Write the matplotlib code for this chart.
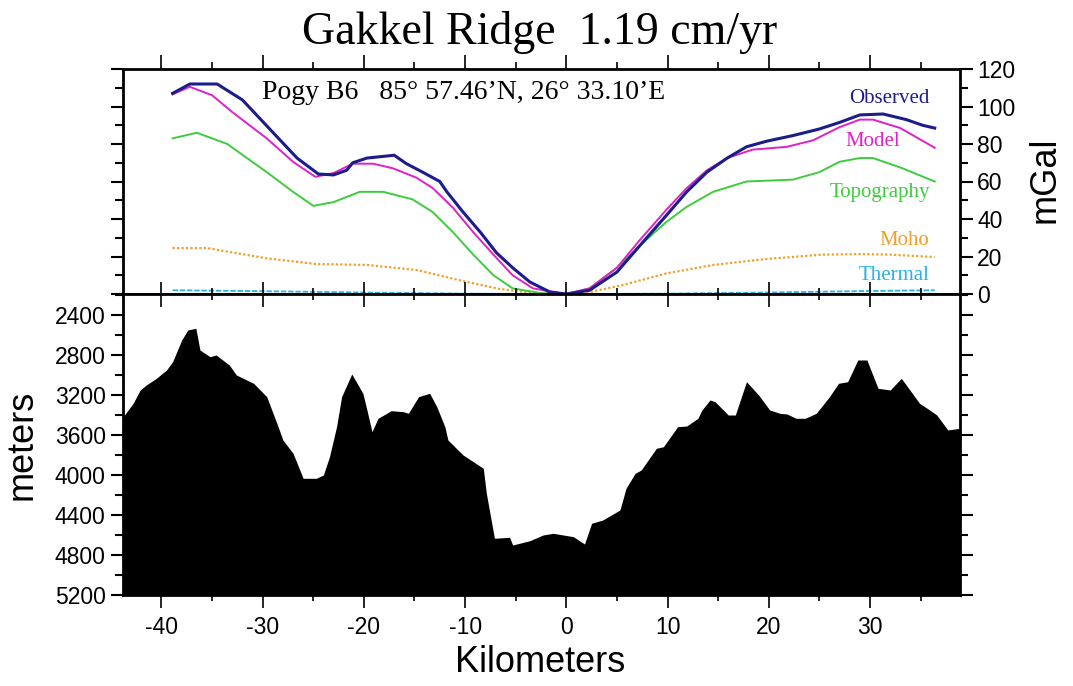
import numpy as np
import matplotlib
matplotlib.use("Agg")
import matplotlib.pyplot as plt
from matplotlib.ticker import MultipleLocator

plt.rcParams['font.family'] = ['Liberation Sans', 'DejaVu Sans']
plt.rcParams['axes.unicode_minus'] = False

# gravity anomaly profiles (km, mGal)
obs_km = [-38.9, -37.2, -34.5, -32, -30, -28, -26.6, -24.5, -23, -21.7, -21.1, -19.7, -17, -15.8,
          -14.2, -12.5, -11.8, -10.2, -8.5, -6.9, -5.3, -3.6, -1.6, 0, 2.3, 5, 7.3, 9.9, 11.9, 13.9,
          15.9, 17.8, 19.8, 22.4, 25, 27, 29, 31.3, 33.6, 35.2, 36.4]
observed = [107, 112, 112, 103.5, 92, 80.5, 72.5, 64, 63.5, 66, 70, 72.5, 74, 69.5, 65, 60, 54.5,
            43.7, 33, 22, 14, 6.4, 1, 0, 2, 11.7, 26, 42, 54.5, 65, 72.5, 78.5, 81.5, 84.5, 88,
            91.5, 95.5, 96, 93, 90, 88.5]

mod_km = [-38.9, -37.2, -35, -33, -29.6, -27, -24.8, -23, -21.1, -19.1, -17.1, -14.8, -13.2, -11.2,
          -9.2, -7.2, -5.3, -3.3, 0, 2.3, 5, 7.3, 9.9, 11.9, 13.9, 15.9, 18.4, 21.8, 24.4, 27, 29,
          30.3, 33, 36.4]
model = [106.5, 110.5, 106, 97, 83, 70.5, 62.5, 64.5, 69.5, 69.5, 67, 62, 56.5, 46, 33, 21, 10, 3,
         0, 3, 14, 29, 45, 56.5, 66, 72.5, 77, 78.5, 82, 89, 93, 93, 88.5, 78]

topo_km = [-38.9, -36.5, -33.5, -29.6, -27, -25, -23, -20.4, -18.1, -15.2, -13.2, -11.2, -9.2, -7.2,
           -5.3, -2.5, 0, 2.3, 5, 7.3, 9.9, 11.9, 14.5, 17.8, 22.4, 25, 27, 29, 30.3, 33, 36.4]
topography = [83, 86, 80, 65, 54.5, 47, 49, 54.5, 54.5, 50.5, 43.7, 33, 21, 10, 3, 0.5, 0, 3, 14,
              26, 38.5, 46.5, 54.5, 60, 61, 65, 70.5, 72.5, 72.5, 67.5, 60]

moho_km = [-38.9, -35.5, -29.6, -24.7, -19.7, -14.8, -9.8, -6.6, -3.3, 0, 2.3, 5.6, 9.9, 14.5,
           19.8, 25.3, 29, 32, 36.4]
moho = [24.5, 24.5, 19, 16, 15.5, 12.8, 6.4, 2.7, 0.5, 0, 1, 4.8, 11, 15.5, 18.7, 21, 21.3, 21, 19.7]

therm_km = [-38.9, -30, -20, -10, 0, 10, 20, 30, 36.4]
thermal = [2, 1.5, 0.8, 0.2, 0, 0.2, 0.8, 1.6, 2]

# bathymetry (km, meters depth)
bath_km = [-43.8, -42.8, -42.1, -41.5, -40.5, -39.5, -38.9, -38.0, -37.4, -36.6, -36.2, -35.2, -34.6,
           -33.3, -32.6, -30.9, -29.6, -28.6, -28.0, -27.0, -26.0, -24.7, -24.0, -23.4, -22.7,
           -22.2, -21.2, -20.1, -19.7, -19.2, -18.6, -17.3, -16.1, -15.6, -14.6, -13.5, -12.8,
           -12.0, -11.7, -10.7, -10.2, -8.2, -7.9, -7.1, -5.6, -5.3, -3.6, -2.3, -1.3, 0.7, 1.8,
           2.5, 3.6, 5.3, 5.9, 6.8, 7.4, 8.9, 9.6, 11.0, 11.9, 13.0, 13.4, 14.2, 14.7, 16.0, 16.7,
           17.8, 19.0, 20.1, 21.1, 21.8, 22.7, 23.6, 24.7, 26.0, 26.9, 27.8, 28.8, 29.7, 30.8,
           32.0, 33.1, 34.9, 35.9, 36.6, 37.7, 38.9]
depth = [3420, 3283, 3150, 3100, 3033, 2950, 2867, 2650, 2550, 2533, 2750, 2817, 2800, 2900, 3000,
         3083, 3217, 3483, 3650, 3783, 4033, 4033, 4000, 3817, 3517, 3217, 2990, 3183, 3350, 3567,
         3433, 3357, 3367, 3383, 3217, 3183, 3317, 3517, 3650, 3750, 3800, 3933, 4183, 4633, 4623,
         4700, 4657, 4600, 4583, 4617, 4690, 4483, 4450, 4350, 4133, 3983, 3950, 3733, 3717, 3517,
         3510, 3433, 3350, 3250, 3267, 3400, 3400, 3067, 3200, 3350, 3383, 3390, 3433, 3433, 3383,
         3217, 3083, 3067, 2850, 2850, 3133, 3150, 3033, 3283, 3350, 3400, 3550, 3533]

c_obs = '#1c1c8a'
c_mod = '#e020c8'
c_topo = '#3ccc3c'
c_moho = '#f0a028'
c_therm = '#28b4e0'

fig = plt.figure(figsize=(10.73, 6.86), dpi=100)
W, H = 1073, 686
left, right = 123 / W, 960 / W
ax1 = fig.add_axes([left, 1 - 294 / H, right - left, (294 - 69) / H])
ax2 = fig.add_axes([left, 1 - 595 / H, right - left, (595 - 294) / H])

xmin, xmax = -43.8, 38.9

# top panel: gravity
ax1.plot(moho_km, moho, color=c_moho, lw=1.6, ls=(0, (1, 1)))
ax1.plot(therm_km, thermal, color=c_therm, lw=1.3, ls=(0, (3, 1)))
ax1.plot(topo_km, topography, color=c_topo, lw=1.4)
ax1.plot(mod_km, model, color=c_mod, lw=1.4)
ax1.plot(obs_km, observed, color=c_obs, lw=2.2)
ax1.set_xlim(xmin, xmax)
ax1.set_ylim(0, 120)

serif = ['Liberation Serif', 'DejaVu Serif']
ax1.text(-30.1, 107.5, 'Pogy B6   85\u00b0 57.46\u2019N, 26\u00b0 33.10\u2019E', family=serif,
         fontsize=20, va='center', ha='left')
ax1.text(35.9, 104.5, 'Observed', color=c_obs, family=serif, fontsize=15, ha='right', va='center')
ax1.text(32.95, 81.2, 'Model', color=c_mod, family=serif, fontsize=15, ha='right', va='center')
ax1.text(35.9, 54.4, 'Topography', color=c_topo, family=serif, fontsize=15, ha='right', va='center')
ax1.text(35.9, 28.4, 'Moho', color=c_moho, family=serif, fontsize=15, ha='right', va='center')
ax1.text(35.9, 10.1, 'Thermal', color=c_therm, family=serif, fontsize=15, ha='right', va='center')

ax1.xaxis.set_major_locator(MultipleLocator(10))
ax1.xaxis.set_minor_locator(MultipleLocator(5))
ax1.yaxis.set_major_locator(MultipleLocator(20))
ax1.yaxis.set_minor_locator(MultipleLocator(10))
ax1.tick_params(axis='x', which='both', top=True, bottom=False, labeltop=False, labelbottom=False,
                direction='out')
ax1.tick_params(axis='x', which='major', length=10, width=1.2)
ax1.tick_params(axis='x', which='minor', length=5, width=1.2)
ax1.tick_params(axis='y', which='both', left=True, right=True, labelleft=False, labelright=True,
                direction='out', labelsize=16.5)
ax1.tick_params(axis='y', which='major', length=9, width=1.5)
ax1.tick_params(axis='y', which='minor', length=6, width=1.5)

# bottom panel: bathymetry
ax2.fill_between(bath_km, depth, 5300, color='black', lw=0)
ax2.set_xlim(xmin, xmax)
ax2.set_ylim(5200, 2190)
ax2.xaxis.set_major_locator(MultipleLocator(10))
ax2.xaxis.set_minor_locator(MultipleLocator(5))
ax2.yaxis.set_minor_locator(MultipleLocator(200))
ax2.set_yticks(np.arange(2400, 5201, 400))
ax2.tick_params(axis='x', which='both', top=True, bottom=True, direction='inout', labelsize=16.5,
                pad=6)
ax2.tick_params(axis='x', which='major', length=18, width=1.2)
ax2.tick_params(axis='x', which='minor', length=8, width=1.2)
ax2.tick_params(axis='y', which='both', left=True, right=True, direction='out', labelsize=16.5)
ax2.tick_params(axis='y', which='major', length=9, width=1.5)
ax2.tick_params(axis='y', which='minor', length=6, width=1.5)

for ax in (ax1, ax2):
    for s in ax.spines.values():
        s.set_linewidth(2)

fig.text(540 / W, 1 - 32 / H, 'Gakkel Ridge  1.19 cm/yr', family=serif, fontsize=33,
         ha='center', va='center')
fig.text(540 / W, 1 - 662 / H, 'Kilometers', fontsize=26, ha='center', va='center')
fig.text(22 / W, 1 - 445 / H, 'meters', fontsize=26, ha='center', va='center', rotation=90)
fig.text(1045 / W, 1 - 180 / H, 'mGal', fontsize=26, ha='center', va='center', rotation=90)

fig.savefig('out.png', dpi=100)
